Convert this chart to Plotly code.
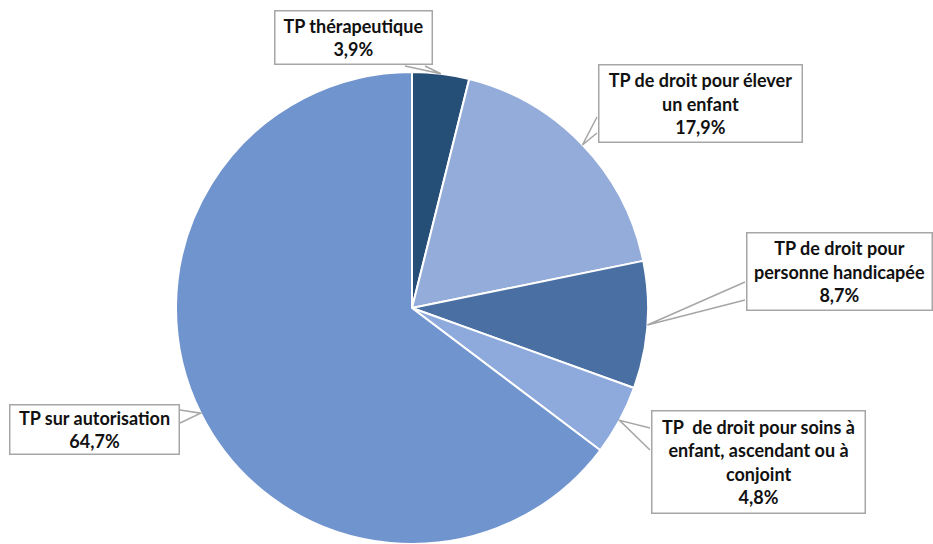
import math
import plotly.graph_objects as go

# Temps partiel: répartition par motif
labels = [
    "TP thérapeutique",
    "TP de droit pour élever<br>un enfant",
    "TP de droit pour<br>personne handicapée",
    "TP  de droit pour soins à<br>enfant, ascendant ou à<br>conjoint",
    "TP sur autorisation",
]
values = [3.9, 17.9, 8.7, 4.8, 64.7]
value_text = ["3,9%", "17,9%", "8,7%", "4,8%", "64,7%"]
colors = ["#264f78", "#94acd9", "#4a6fa2", "#8eaadd", "#7094cd"]

W, H = 933, 544
cx, cy, r = 412, 308, 236  # pie centre / radius in px

# callout boxes (centre x, centre y, width, height) and tail base points, px
boxes = [
    (353, 38, 160, 56),
    (700, 103, 206, 80),
    (839, 271, 188, 80),
    (758, 462, 216, 105),
    (94, 429, 172, 52),
]
tail_bases = [
    ((405, 66), (425, 66)),
    ((597, 117), (597, 133)),
    ((745, 282), (745, 300)),
    ((650, 428), (650, 450)),
    ((180, 410), (180, 423)),
]


def px(x, y):
    return x / W, 1 - y / H


fig = go.Figure(go.Pie(
    labels=labels,
    values=values,
    sort=False,
    direction="clockwise",
    rotation=0,
    textinfo="none",
    hoverinfo="label+percent",
    marker=dict(colors=colors, line=dict(color="white", width=2)),
    domain=dict(x=[(cx - r) / W, (cx + r) / W],
                y=[max(0, 1 - (cy + r) / H), 1 - (cy - r) / H]),
))

total = sum(values)
cum = 0
for i, v in enumerate(values):
    mid = (cum + v / 2) / total * 2 * math.pi
    cum += v
    tip = (cx + r * math.sin(mid), cy - r * math.cos(mid))
    (b1, b2) = tail_bases[i]
    x1, y1 = px(*b1)
    x2, y2 = px(*b2)
    xt, yt = px(*tip)
    fig.add_shape(
        type="path",
        xref="paper", yref="paper",
        path=f"M {x1} {y1} L {xt} {yt} L {x2} {y2}",
        line=dict(color="#a6a6a6", width=1.5),
    )
    bx, by, bw, bh = boxes[i]
    ax, ay = px(bx, by)
    fig.add_annotation(
        x=ax, y=ay, xref="paper", yref="paper",
        xanchor="center", yanchor="middle",
        text=f"<b>{labels[i]}<br>{value_text[i]}</b>",
        showarrow=False,
        width=bw - 4, height=bh - 4,
        align="center", valign="middle",
        bgcolor="white", bordercolor="#a6a6a6", borderwidth=1.5, borderpad=0,
        font=dict(family="Lato", size=18, color="#111111"),
    )

fig.update_layout(
    width=W, height=H,
    margin=dict(l=0, r=0, t=0, b=0),
    paper_bgcolor="white",
    showlegend=False,
)

fig.write_html("out.html", config={"displayModeBar": False},
               post_script="document.body.style.margin='0';")
